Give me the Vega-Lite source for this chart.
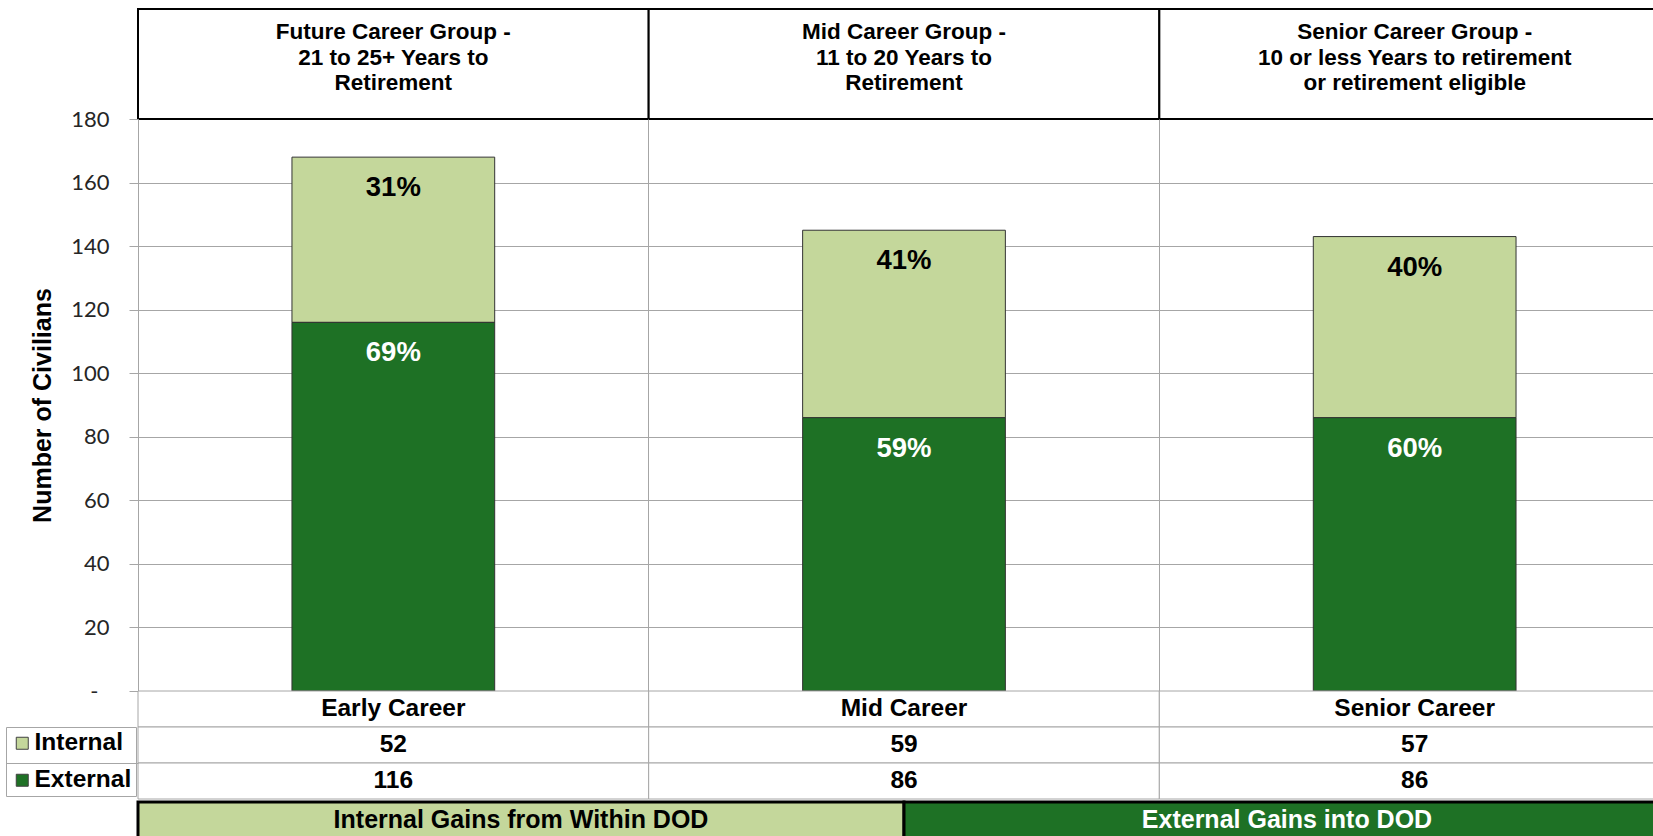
{
  "$schema": "https://vega.github.io/schema/vega-lite/v6.json",
  "padding": {"top": 8, "left": 5, "right": 0, "bottom": 0},
  "bounds": "flush",
  "spacing": 0,
  "resolve": {"scale": {"fill": "independent", "color": "independent"}, "legend": {"fill": "independent"}},
  "config": {"view": {"stroke": null}, "font": "Liberation Sans", "background": "white"},
  "datasets": {
    "main": [
      {"category": "Early Career", "type": "Internal", "value": 52, "pct": "31%"},
      {"category": "Early Career", "type": "External", "value": 116, "pct": "69%"},
      {"category": "Mid Career", "type": "Internal", "value": 59, "pct": "41%"},
      {"category": "Mid Career", "type": "External", "value": 86, "pct": "59%"},
      {"category": "Senior Career", "type": "Internal", "value": 57, "pct": "40%"},
      {"category": "Senior Career", "type": "External", "value": 86, "pct": "60%"}
    ],
    "groups": [
      {"category": "Early Career", "header": "Future Career Group -\n21 to 25+ Years to\nRetirement"},
      {"category": "Mid Career", "header": "Mid Career Group -\n11 to 20 Years to\nRetirement"},
      {"category": "Senior Career", "header": "Senior Career Group -\n10 or less Years to retirement\nor retirement eligible"}
    ],
    "gains": [
      {"gain": "Internal Gains from Within DOD"},
      {"gain": "External Gains into DOD"}
    ]
  },
  "vconcat": [
    {
      "width": 1532,
      "height": 110,
      "data": {"name": "groups"},
      "encoding": {
        "x": {"field": "category", "type": "nominal", "sort": null, "scale": {"paddingInner": 0, "paddingOuter": 0}, "axis": null}
      },
      "layer": [
        {"mark": {"type": "rect", "fill": "white", "stroke": "black", "strokeWidth": 2}},
        {
          "mark": {"type": "text", "lineBreak": "\n", "fontSize": 22.5, "fontWeight": "bold", "lineHeight": 25.5, "baseline": "middle", "dy": -32, "color": "black"},
          "encoding": {"text": {"field": "header"}}
        }
      ]
    },
    {
      "width": 1532,
      "height": 572,
      "data": {"name": "main"},
      "transform": [
        {"stack": "value", "groupby": ["category"], "sort": [{"field": "type", "order": "ascending"}], "as": ["v0", "v1"]}
      ],
      "encoding": {
        "x": {
          "field": "category", "type": "nominal",
          "scale": {"paddingInner": 0, "paddingOuter": 0},
          "axis": {"title": null, "labels": false, "ticks": false, "domain": false, "grid": true, "gridColor": "#a6a6a6", "gridWidth": 1, "bandPosition": 0}
        }
      },
      "layer": [
        {
          "mark": {"type": "bar", "width": {"band": 0.397}, "stroke": "#333333", "strokeWidth": 1},
          "encoding": {
            "y": {
              "field": "v1", "type": "quantitative",
              "scale": {"domain": [0, 180], "nice": false},
              "axis": {
                "title": "Number of Civilians",
                "titleFont": "Liberation Sans", "titleFontSize": 25, "titleFontWeight": "bold", "titleColor": "black", "titlePadding": 15,
                "values": [0, 20, 40, 60, 80, 100, 120, 140, 160, 180],
                "labelFont": "Lato", "labelFontSize": 22, "labelColor": "#262626",
                "labelPadding": {"condition": {"test": "datum.value == 0", "value": 31}, "value": 20},
                "labelExpr": "datum.value == 0 ? '-' : datum.label",
                "tickSize": 9, "tickColor": "#a6a6a6", "domainColor": "#a6a6a6",
                "grid": true,
                "gridColor": {"condition": {"test": "datum.value == 180", "value": "transparent"}, "value": "#a6a6a6"}
              }
            },
            "y2": {"field": "v0"},
            "fill": {
              "field": "type", "type": "nominal",
              "scale": {"domain": ["Internal", "External"], "range": ["#c4d79b", "#1e7125"]},
              "legend": {
                "orient": "none", "legendX": -132, "legendY": 608, "title": null,
                "symbolType": "square", "symbolSize": 144, "symbolStrokeColor": "#404040", "symbolStrokeWidth": 1,
                "labelFont": "Liberation Sans", "labelFontSize": 24.5, "labelFontWeight": "bold", "labelColor": "black",
                "labelOffset": 0, "rowPadding": 12, "padding": 4, "strokeColor": "#a6a6a6",
                "labelExpr": "datum.label + '   '"
              }
            }
          }
        },
        {
          "mark": {"type": "text", "fontSize": 27.5, "fontWeight": "bold", "baseline": "middle", "dy": 31},
          "encoding": {
            "y": {"field": "v1", "type": "quantitative"},
            "text": {"field": "pct"},
            "color": {"condition": {"test": "datum.type == 'External'", "value": "white"}, "value": "black"}
          }
        }
      ]
    },
    {
      "width": 1532,
      "height": 108,
      "encoding": {
        "x": {"field": "category", "type": "nominal", "scale": {"paddingInner": 0, "paddingOuter": 0}, "axis": null}
      },
      "layer": [
        {
          "data": {"name": "groups"},
          "mark": {"type": "rect", "fill": "white", "stroke": "#a6a6a6", "strokeWidth": 1},
          "encoding": {
            "y": {
              "datum": "Category", "type": "nominal",
              "scale": {"domain": ["Category", "Internal", "External"], "paddingInner": 0, "paddingOuter": 0},
              "axis": {"title": null, "labels": false, "domain": false, "grid": false, "values": ["External"], "bandPosition": 0, "tickSize": 132, "tickColor": "#a6a6a6"}
            }
          }
        },
        {
          "data": {"name": "main"},
          "mark": {"type": "rect", "fill": "white", "stroke": "#a6a6a6", "strokeWidth": 1},
          "encoding": {"y": {"field": "type", "type": "nominal"}}
        },
        {
          "data": {"name": "groups"},
          "mark": {"type": "text", "fontSize": 24.5, "fontWeight": "bold", "baseline": "middle", "color": "black"},
          "encoding": {"y": {"datum": "Category", "type": "nominal"}, "text": {"field": "category"}}
        },
        {
          "data": {"name": "main"},
          "mark": {"type": "text", "fontSize": 24.5, "fontWeight": "bold", "baseline": "middle", "color": "black"},
          "encoding": {"y": {"field": "type", "type": "nominal"}, "text": {"field": "value"}}
        }
      ]
    },
    {
      "width": 1532,
      "height": 42,
      "data": {"name": "gains"},
      "encoding": {
        "x": {"field": "gain", "type": "nominal", "sort": null, "scale": {"paddingInner": 0, "paddingOuter": 0}, "axis": null},
        "y": {"datum": "banner", "type": "nominal", "scale": {"paddingInner": 0, "paddingOuter": 0.0833}, "axis": null}
      },
      "layer": [
        {
          "mark": {"type": "rect", "stroke": "black", "strokeWidth": 3},
          "encoding": {"fill": {"condition": {"test": "datum.gain == 'External Gains into DOD'", "value": "#1e7125"}, "value": "#c4d79b"}}
        },
        {
          "mark": {"type": "text", "fontSize": 25, "fontWeight": "bold", "baseline": "middle"},
          "encoding": {
            "text": {"field": "gain"},
            "color": {"condition": {"test": "datum.gain == 'External Gains into DOD'", "value": "white"}, "value": "black"}
          }
        }
      ]
    }
  ]
}
